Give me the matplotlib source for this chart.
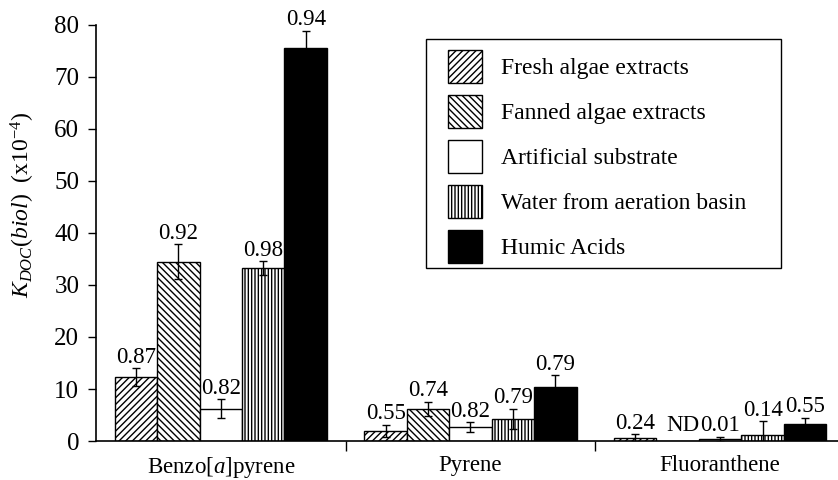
import numpy as np
import matplotlib
matplotlib.use('Agg')
import matplotlib.pyplot as plt
import matplotlib.patches as mpatches

plt.rcParams['font.family'] = ['Liberation Serif', 'DejaVu Serif']
plt.rcParams['mathtext.fontset'] = 'custom'
plt.rcParams['mathtext.rm'] = 'Liberation Serif'
plt.rcParams['mathtext.it'] = 'Liberation Serif:italic'
plt.rcParams['hatch.linewidth'] = 1.0

compounds = ['Benzo[$\\it{a}$]pyrene', 'Pyrene', 'Fluoranthene']
series = ['Fresh algae extracts', 'Fanned algae extracts', 'Artificial substrate',
          'Water from aeration basin', 'Humic Acids']

# K_DOC values (x10^-4), NaN = not determined
fresh   = [12.3, 1.9, 0.6]
fanned  = [34.5, 6.2, np.nan]
artif   = [6.2, 2.7, 0.3]
water   = [33.3, 4.3, 1.2]
humic   = [75.6, 10.4, 3.3]

fresh_err  = [1.7, 1.2, 0.7]
fanned_err = [3.3, 1.3, 0.0]
artif_err  = [1.8, 0.9, 0.5]
water_err  = [1.3, 1.9, 2.6]
humic_err  = [3.3, 2.2, 1.2]

# correlation labels above bars ('ND' = not determined)
fresh_r  = ['0.87', '0.55', '0.24']
fanned_r = ['0.92', '0.74', 'ND']
artif_r  = ['0.82', '0.82', '0.01']
water_r  = ['0.98', '0.79', '0.14']
humic_r  = ['0.94', '0.79', '0.55']

values = [fresh, fanned, artif, water, humic]
errors = [fresh_err, fanned_err, artif_err, water_err, humic_err]
rlabels = [fresh_r, fanned_r, artif_r, water_r, humic_r]
styles = [dict(color='white', hatch='/////'),
          dict(color='white', hatch='\\\\\\\\\\'),
          dict(color='white', hatch=''),
          dict(color='white', hatch='|||||'),
          dict(color='black', hatch='')]

fig = plt.figure(figsize=(8.38, 4.8), dpi=100)
ax = fig.add_axes([96 / 838, 1 - 441 / 480, (838 - 96) / 838, (441 - 25) / 480])

x = np.arange(len(compounds))
width = 0.17
handles = []
for i, (vals, errs, labs, st) in enumerate(zip(values, errors, rlabels, styles)):
    pos = x + (i - 2) * width
    v = np.array(vals, dtype=float)
    bars = ax.bar(pos, np.nan_to_num(v), width, facecolor=st['color'], hatch=st['hatch'],
                  edgecolor='black', linewidth=1.0, label=series[i])
    handles.append(bars)
    ok = ~np.isnan(v)
    ax.errorbar(pos[ok], v[ok], yerr=np.array(errs)[ok], fmt='none', ecolor='black',
                elinewidth=1.0, capsize=3, capthick=1.0)
    for j, (p, val, e, lab) in enumerate(zip(pos, v, errs, labs)):
        if np.isnan(val):
            # ND sits level with the neighbouring label
            ax.annotate(lab, (p + 0.02, artif[j] + artif_err[j]), xytext=(0, 4),
                        textcoords='offset points', ha='center', va='baseline', fontsize=16.5)
        else:
            ax.annotate(lab, (p, val + e), xytext=(0, 4), textcoords='offset points',
                        ha='center', va='baseline', fontsize=16.5)

ax.set_xlim(-0.5, 2.472)
ax.set_ylim(0, 80)
ax.set_yticks(np.arange(0, 81, 10))
ax.tick_params(axis='y', direction='out', length=6, width=1, labelsize=18, pad=6)

ax.set_xticks([0.5, 1.5])
ax.set_xticklabels([])
ax.tick_params(axis='x', which='major', direction='out', length=7, width=1)
ax.set_xticks(x, minor=True)
ax.set_xticklabels(compounds, minor=True, fontsize=16.5)
ax.tick_params(axis='x', which='minor', length=0, pad=10)

for s in ['top', 'right']:
    ax.spines[s].set_visible(False)
for s in ['left', 'bottom']:
    ax.spines[s].set_linewidth(1.2)

ax.set_ylabel(r'$K_{DOC}(biol)$  (x10$^{-4}$)', fontsize=17)
ax.yaxis.set_label_coords(-0.08, 0.567)

# legend box drawn separately so its padding matches the original
fig.patches.append(mpatches.Rectangle((426 / 838, 1 - 268 / 480), (781 - 426) / 838,
                                      (268 - 39) / 480, transform=fig.transFigure,
                                      fill=False, edgecolor='black', linewidth=1.0))
fs = 17
fpx = fs * 100 / 72
hh = (33 / fpx - 0.245) / 0.65
leg = ax.legend(handles=handles, labels=series, loc='upper left',
                bbox_to_anchor=(448 / 838, 1 - 50 / 480), bbox_transform=fig.transFigure,
                borderaxespad=0, borderpad=0, fontsize=fs, frameon=False,
                handlelength=34 / fpx, handleheight=hh,
                labelspacing=12 / fpx, handletextpad=19 / fpx)

fig.savefig('out.png', dpi=100)
